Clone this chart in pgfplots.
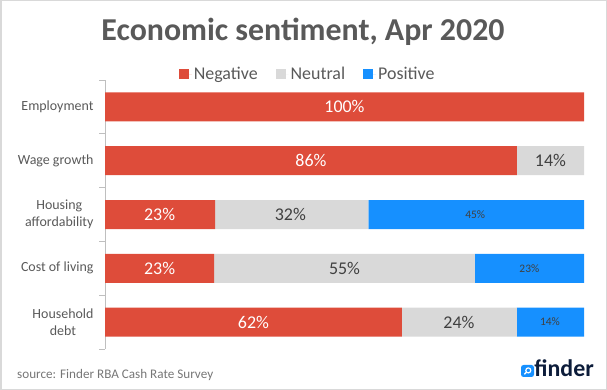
\documentclass[border=0pt]{standalone}
\usepackage{fontspec}
\setmainfont{Carlito}
\usepackage{pgfplots}
\usepackage{pgfplotstable}
\pgfplotsset{compat=1.18}
\definecolor{negc}{RGB}{222,76,58}
\definecolor{neuc}{RGB}{217,217,217}
\definecolor{posc}{RGB}{22,144,255}
\definecolor{txtc}{RGB}{89,89,89}
\definecolor{lblc}{RGB}{64,64,64}
\definecolor{axc}{RGB}{191,191,191}
\definecolor{navy}{RGB}{12,28,58}
\definecolor{srcc}{RGB}{118,118,118}

% 100% stacked shares (Cost of living normalised: 23/55/23 of 101)
\pgfplotstableread{
y neg neu pos
0 100 0 0
1 86 14 0
2 23 32 45
3 22.8 54.4 22.8
4 62 24 14
}\bars

\pgfplotstableread{
x y v
50 0 100
43 1 86
11.4 2 23
11.4 3 23
31 4 62
}\neglab
\pgfplotstableread{
x y v
93 1 14
38.7 2 32
50 3 55
73.9 4 24
}\neulab
\pgfplotstableread{
x y v
77.3 2 45
88.6 3 23
92.9 4 14
}\poslab

\pgfplotsset{
  base/.style={at={(105bp,41bp)}, anchor=south west, width=479bp, height=269bp,
    scale only axis, xmin=0, xmax=100, ymin=-0.5, ymax=4.5, y dir=reverse},
  sq legend/.style={legend image code/.code={\fill[##1,draw=none] (0bp,-5bp) rectangle (10bp,5bp); \path (10bp,0bp) -- (13bp,0bp);}},
  pct/.style={nodes near coords={\pgfmathprintnumber[fixed,precision=0,assume math mode=true]{\pgfplotspointmeta}\%}},
}

\begin{document}
\begin{tikzpicture}
\path[use as bounding box] (0,0) rectangle (607bp,390bp);
\draw[neuc, line width=1.5bp] (0.75bp,0.75bp) rectangle (606.25bp,389.25bp);

\begin{axis}[base,
  xbar stacked, bar width=29bp,
  axis x line=none, axis y line=left, axis line style={-},
  xtick=\empty,
  ytick={0,1,2,3,4},
  yticklabels={Employment, Wage growth, {Housing\\affordability}, Cost of living, {Household\\debt}},
  major tick length=0pt,
  minor ytick={-0.5,0.5,1.5,2.5,3.5,4.5},
  minor tick length=6bp,
  tick align=outside,
  y axis line style={draw=axc, line width=0.8pt},
  every tick/.style={draw=axc, line width=0.8pt},
  minor tick style={draw=axc, line width=0.8pt},
  yticklabel style={font=\fontsize{14}{16.5}\selectfont, text=txtc, align=center, xshift=-8bp},
  legend style={at={(0.423,1.022)}, anchor=center, draw=none, fill=none,
    legend columns=-1, font=\fontsize{18}{20}\selectfont, text=txtc,
    /tikz/every even column/.append style={column sep=16bp}},
]
\addplot[fill=negc, draw=none, sq legend] table[x=neg, y=y]{\bars};
\addlegendentry{Negative}
\addplot[fill=neuc, draw=none, sq legend] table[x=neu, y=y]{\bars};
\addlegendentry{Neutral}
\addplot[fill=posc, draw=none, sq legend] table[x=pos, y=y]{\bars};
\addlegendentry{Positive}
\end{axis}

\begin{axis}[base, hide axis]
\addplot[draw=none, mark=none, pct, point meta=\thisrow{v},
  every node near coord/.append style={anchor=center, text=white, font=\fontsize{18}{20}\selectfont}]
  table[x=x, y=y]{\neglab};
\addplot[draw=none, mark=none, pct, point meta=\thisrow{v},
  every node near coord/.append style={anchor=center, text=lblc, font=\fontsize{18}{20}\selectfont}]
  table[x=x, y=y]{\neulab};
\addplot[draw=none, mark=none, pct, point meta=\thisrow{v},
  every node near coord/.append style={anchor=center, text=lblc, font=\fontsize{11.5}{13}\selectfont}]
  table[x=x, y=y]{\poslab};
\end{axis}

\node[font=\bfseries\fontsize{32}{34}\selectfont, text=txtc] at (303bp,358bp) {Economic sentiment, Apr 2020};
\node[anchor=west, inner sep=0pt, font=\fontsize{13.2}{15}\selectfont, text=srcc] at (17bp,15bp) {source: Finder RBA Cash Rate Survey};
\node[anchor=east, inner sep=0pt, font=\bfseries\fontsize{24}{24}\selectfont, text=navy] at (594bp,21.5bp) {finder};
\fill[posc, rounded corners=2.5bp] (521bp,13bp) -- (521bp,25bp) -- (534bp,25bp) -- (534bp,13bp) -- cycle;
\draw[white, line width=1.2bp] (528.3bp,19.6bp) circle (2.5bp);
\draw[white, line width=1.4bp] (526.5bp,17.8bp) -- (524.4bp,15.7bp);
\end{tikzpicture}
\end{document}
